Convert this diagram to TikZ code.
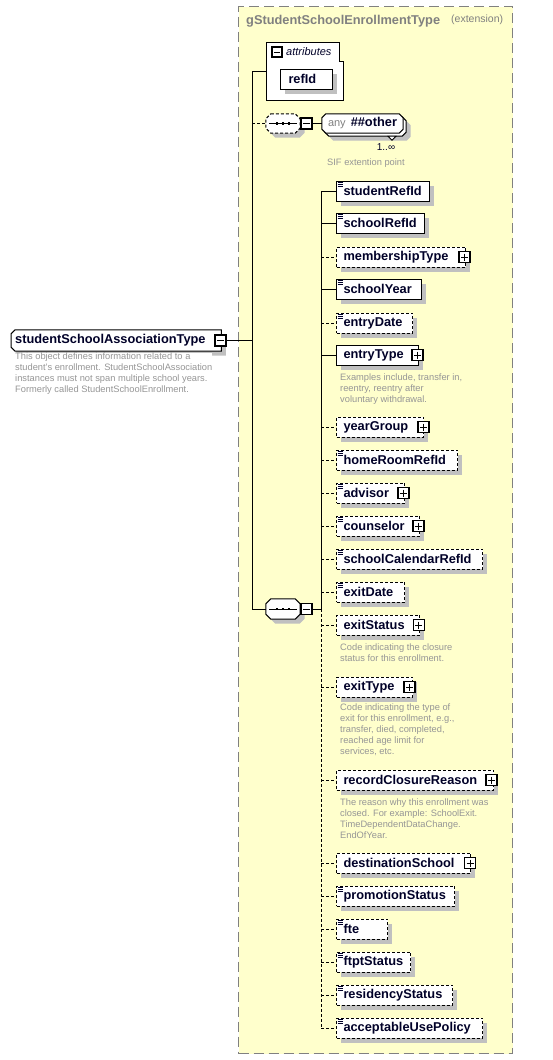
\documentclass[tikz,border=0pt]{standalone}
\usepackage{fontspec}
\setmainfont{Liberation Sans}
\usetikzlibrary{shadows}
\definecolor{boxyellow}{RGB}{255,255,204}
\definecolor{framegray}{RGB}{128,128,128}
\definecolor{shadowgray}{RGB}{192,192,192}
\definecolor{navy}{RGB}{0,0,40}
\definecolor{descgray}{RGB}{150,150,150}
\newcommand\elfont{\fontsize{12.8}{14}\selectfont\bfseries}
\newcommand\dscfont{\fontsize{9.3}{11}\selectfont}
\tikzset{
  shadowed/.style={general shadow={fill=shadowgray, shadow xshift=4.5pt, shadow yshift=-4.5pt}},
  elem/.style={draw, line width=1pt, fill=white, anchor=west, minimum height=20pt, inner ysep=0pt, inner xsep=7pt, align=left, font=\elfont, text=navy, shadowed},
  opt/.style={dash pattern=on 3pt off 2pt},
  req/.style={},
  link/.style={line width=1pt},
  pmbox/.style={draw, line width=1.2pt, fill=white, minimum size=11pt, inner sep=0pt},
  plusbox/.style={pmbox, path picture={\draw[line width=1pt] ([xshift=2pt]path picture bounding box.west) -- ([xshift=-2pt]path picture bounding box.east) ([yshift=-2pt]path picture bounding box.north) -- ([yshift=2pt]path picture bounding box.south);}},
  minusbox/.style={pmbox, path picture={\draw[line width=1pt] ([xshift=2pt]path picture bounding box.west) -- ([xshift=-2pt]path picture bounding box.east);}},
  frame/.style={inner sep=0pt},
  outline/.style={draw, line width=1pt, fill=white},
  shadowfill/.style={fill=shadowgray, transform canvas={shift={(4.5pt,-4.5pt)}}},
  desc/.style={anchor=north west, inner sep=0pt, align=left, font=\dscfont, text=descgray},
}
% chamfered outline of a node: name, nw, ne, se, sw
\newcommand\octpath[5]{([xshift=#2]#1.north west) -- ([xshift=-#3]#1.north east) -- ([yshift=-#3]#1.north east) -- ([yshift=#4]#1.south east) -- ([xshift=-#4]#1.south east) -- ([xshift=#5]#1.south west) -- ([yshift=#5]#1.south west) -- ([yshift=-#2]#1.north west) -- cycle}
\newcommand\xsdel[4]{%
  \node[elem,#4,text width=#3pt] (#1) at (336,#2) {#1};
  \coordinate (j#1) at (321,#2);
  \draw[link,#4] (j#1) -- (#1.west);
}
\begin{document}
\begin{tikzpicture}[x=1pt,y=-1pt]
\useasboundingbox (0,0) rectangle (553,1060);
% group box
\node[draw=framegray, fill=boxyellow, dash pattern=on 10pt off 5pt, line width=1.3pt, minimum width=274pt, minimum height=1047pt, anchor=north west, inner sep=0pt] (group) at (238,6) {};
\node[anchor=west, inner sep=0pt, font=\elfont, text=framegray] (title) at (246,21) {gStudentSchoolEnrollmentType};
\node[anchor=west, inner sep=0pt, font=\fontsize{10.5}{12}\selectfont, text=framegray] (ext) at (451,20) {(extension)};
% attributes
\node[frame, minimum width=77pt, minimum height=58pt, anchor=north west] (attr) at (266,42) {};
\draw[line width=1pt, fill=white] (attr.north west) -- ([xshift=-4pt]attr.north east) -- ([xshift=-4pt,yshift=-19pt]attr.north east) -- ([yshift=-19pt]attr.north east) -- (attr.south east) -- (attr.south west) -- cycle;
\node[minusbox, minimum size=10pt] (attrMinus) at (277,52) {};
\node[anchor=west, inner sep=0pt, font=\fontsize{11}{13}\selectfont\itshape, text=navy] (attrLabel) at (286,52) {attributes};
\node[elem, inner xsep=8pt, text width=36pt] (refId) at (280,79) {refId};
% trunk
\coordinate (tTop) at (252,71);
\coordinate (tAny) at (252,123.5);
\coordinate (tMain) at (252,340.5);
\coordinate (tBot) at (252,609);
\draw[link] (attr.west |- tTop) -- (tTop) -- (tBot);
% main node
\node[frame, minimum width=210pt, minimum height=21pt, anchor=west] (main) at (11,340.5) {};
\fill[shadowfill] \octpath{main}{4pt}{0pt}{0pt}{4pt};
\draw[outline] \octpath{main}{4pt}{0pt}{0pt}{4pt};
\node[anchor=west, inner sep=0pt, font=\elfont, text=navy] (mainText) at ([xshift=4pt]main.west) {studentSchoolAssociationType};
\node[minusbox] (mainMinus) at (220.5,340.5) {};
\draw[link] (mainMinus.east) -- (tMain);
\node[desc, fill=white] (mainDesc) at (15,352.5) {This object defines information related to a\\student's enrollment. StudentSchoolAssociation\\instances must not span multiple school years.\\Formerly called StudentSchoolEnrollment.};
% any sequence
\node[frame, minimum width=34pt, minimum height=19pt] (seqAny) at (283,123.5) {};
\fill[shadowfill] \octpath{seqAny}{5pt}{5pt}{5pt}{5pt};
\draw[outline, opt] \octpath{seqAny}{5pt}{5pt}{5pt}{5pt};
\node[minusbox] (seqAnyMinus) at (306.5,123.5) {};
\draw[link, opt] (tAny) -- (seqAny.west);
\node[frame, minimum width=81pt, minimum height=19pt] (anyBack) at (365.5,126.5) {};
\fill[shadowfill] \octpath{anyBack}{4pt}{4pt}{4pt}{4pt};
\draw[outline] \octpath{anyBack}{4pt}{4pt}{4pt}{4pt};
\draw[line width=0.8pt, fill=white] ([xshift=22.5pt]anyBack.south) -- ([xshift=30.5pt]anyBack.south) -- ([xshift=26.5pt,yshift=-4pt]anyBack.south) -- cycle;
\node[frame, minimum width=81pt, minimum height=19pt] (any) at (362.5,123.5) {};
\draw[outline] \octpath{any}{4pt}{4pt}{4pt}{4pt};
\node[inner sep=0pt, font=\elfont, text=navy] (anyText) at (any.center) {{\fontsize{11}{13}\selectfont\mdseries\color{framegray}any}\hspace{5pt}\#\#other};
\draw[link] (seqAnyMinus.east) -- (any.west);
\node[inner sep=0pt, font=\fontsize{10}{12}\selectfont, text=navy] (anyMult) at (386,147) {1..∞};
\node[desc, anchor=west] (anyDesc) at (327,163) {SIF extention point};
% main sequence
\node[frame, minimum width=34pt, minimum height=20pt] (seqMain) at (283,609) {};
\fill[shadowfill] \octpath{seqMain}{5pt}{5pt}{5pt}{5pt};
\draw[outline] \octpath{seqMain}{5pt}{5pt}{5pt}{5pt};
\node[minusbox] (seqMainMinus) at (306.5,609) {};
\draw[link] (tBot) -- (seqMain.west);
\coordinate (cJ) at (321,609);
\coordinate (cTop) at (321,191);
\coordinate (cBot) at (321,1028);
\draw[link] (seqMainMinus.east) -- (cJ);
\draw[link] (cTop) -- (cJ);
\draw[link,opt] (cJ) -- (cBot);
\foreach \s in {seqAny,seqMain}{
  \draw[line width=0.9pt] ([xshift=-14pt]\s.center) -- ([xshift=14pt]\s.center);
  \foreach \d in {-6,0,6} \fill[black] ([xshift=\d pt]\s.center) +(-1.3,-1.3) rectangle +(1.3,1.3);
}
% elements
\xsdel{studentRefId}{191}{79}{req}
\xsdel{schoolRefId}{223}{74}{req}
\xsdel{membershipType}{257}{115}{opt}
\xsdel{schoolYear}{289}{71}{req}
\xsdel{entryDate}{323}{62}{opt}
\xsdel{entryType}{355}{68}{req}
\xsdel{yearGroup}{427}{73}{opt}
\xsdel{homeRoomRefId}{460}{107}{opt}
\xsdel{advisor}{493}{54}{opt}
\xsdel{counselor}{526}{69}{opt}
\xsdel{schoolCalendarRefId}{559}{132}{opt}
\xsdel{exitDate}{592}{54}{opt}
\xsdel{exitStatus}{625}{69}{opt}
\xsdel{exitType}{687}{62}{opt}
\xsdel{recordClosureReason}{780}{143}{opt}
\xsdel{destinationSchool}{863}{120}{opt}
\xsdel{promotionStatus}{896}{104}{opt}
\xsdel{fte}{929}{37}{opt}
\xsdel{ftptStatus}{962}{60}{opt}
\xsdel{residencyStatus}{995}{102}{opt}
\xsdel{acceptableUsePolicy}{1028}{132}{opt}
% plus boxes
\node[plusbox] (membershipTypePlus) at (464.5,257) {};
\node[plusbox] (entryTypePlus) at (417.5,355) {};
\node[plusbox] (yearGroupPlus) at (423.5,427) {};
\node[plusbox] (advisorPlus) at (403.5,493) {};
\node[plusbox] (counselorPlus) at (418.5,526) {};
\node[plusbox] (exitStatusPlus) at (418.8,625) {};
\node[plusbox] (exitTypePlus) at (409.5,687) {};
\node[plusbox] (recordClosureReasonPlus) at (491.5,780) {};
\node[plusbox] (destinationSchoolPlus) at (470,863) {};
% simple-content icons
\foreach \n in {studentRefId,schoolRefId,schoolYear,entryDate,homeRoomRefId,advisor,counselor,schoolCalendarRefId,exitDate,promotionStatus,fte,ftptStatus,residencyStatus,acceptableUsePolicy}{
  \foreach \d in {1.8,3.8,5.8} \draw[line width=0.8pt, navy] ([xshift=1.5pt,yshift=-\d pt]\n.north west) -- ++(5,0);
}
% descriptions
\node[desc] (entryTypeDesc) at (340,374) {Examples include, transfer in,\\reentry, reentry after\\voluntary withdrawal.};
\node[desc] (exitStatusDesc) at (340,644) {Code indicating the closure\\status for this enrollment.};
\node[desc] (exitTypeDesc) at (340,704) {Code indicating the type of\\exit for this enrollment, e.g.,\\transfer, died, completed,\\reached age limit for\\services, etc.};
\node[desc] (recordClosureReasonDesc) at (340,799) {The reason why this enrollment was\\closed. For example: SchoolExit.\\TimeDependentDataChange.\\EndOfYear.};
\end{tikzpicture}
\end{document}
